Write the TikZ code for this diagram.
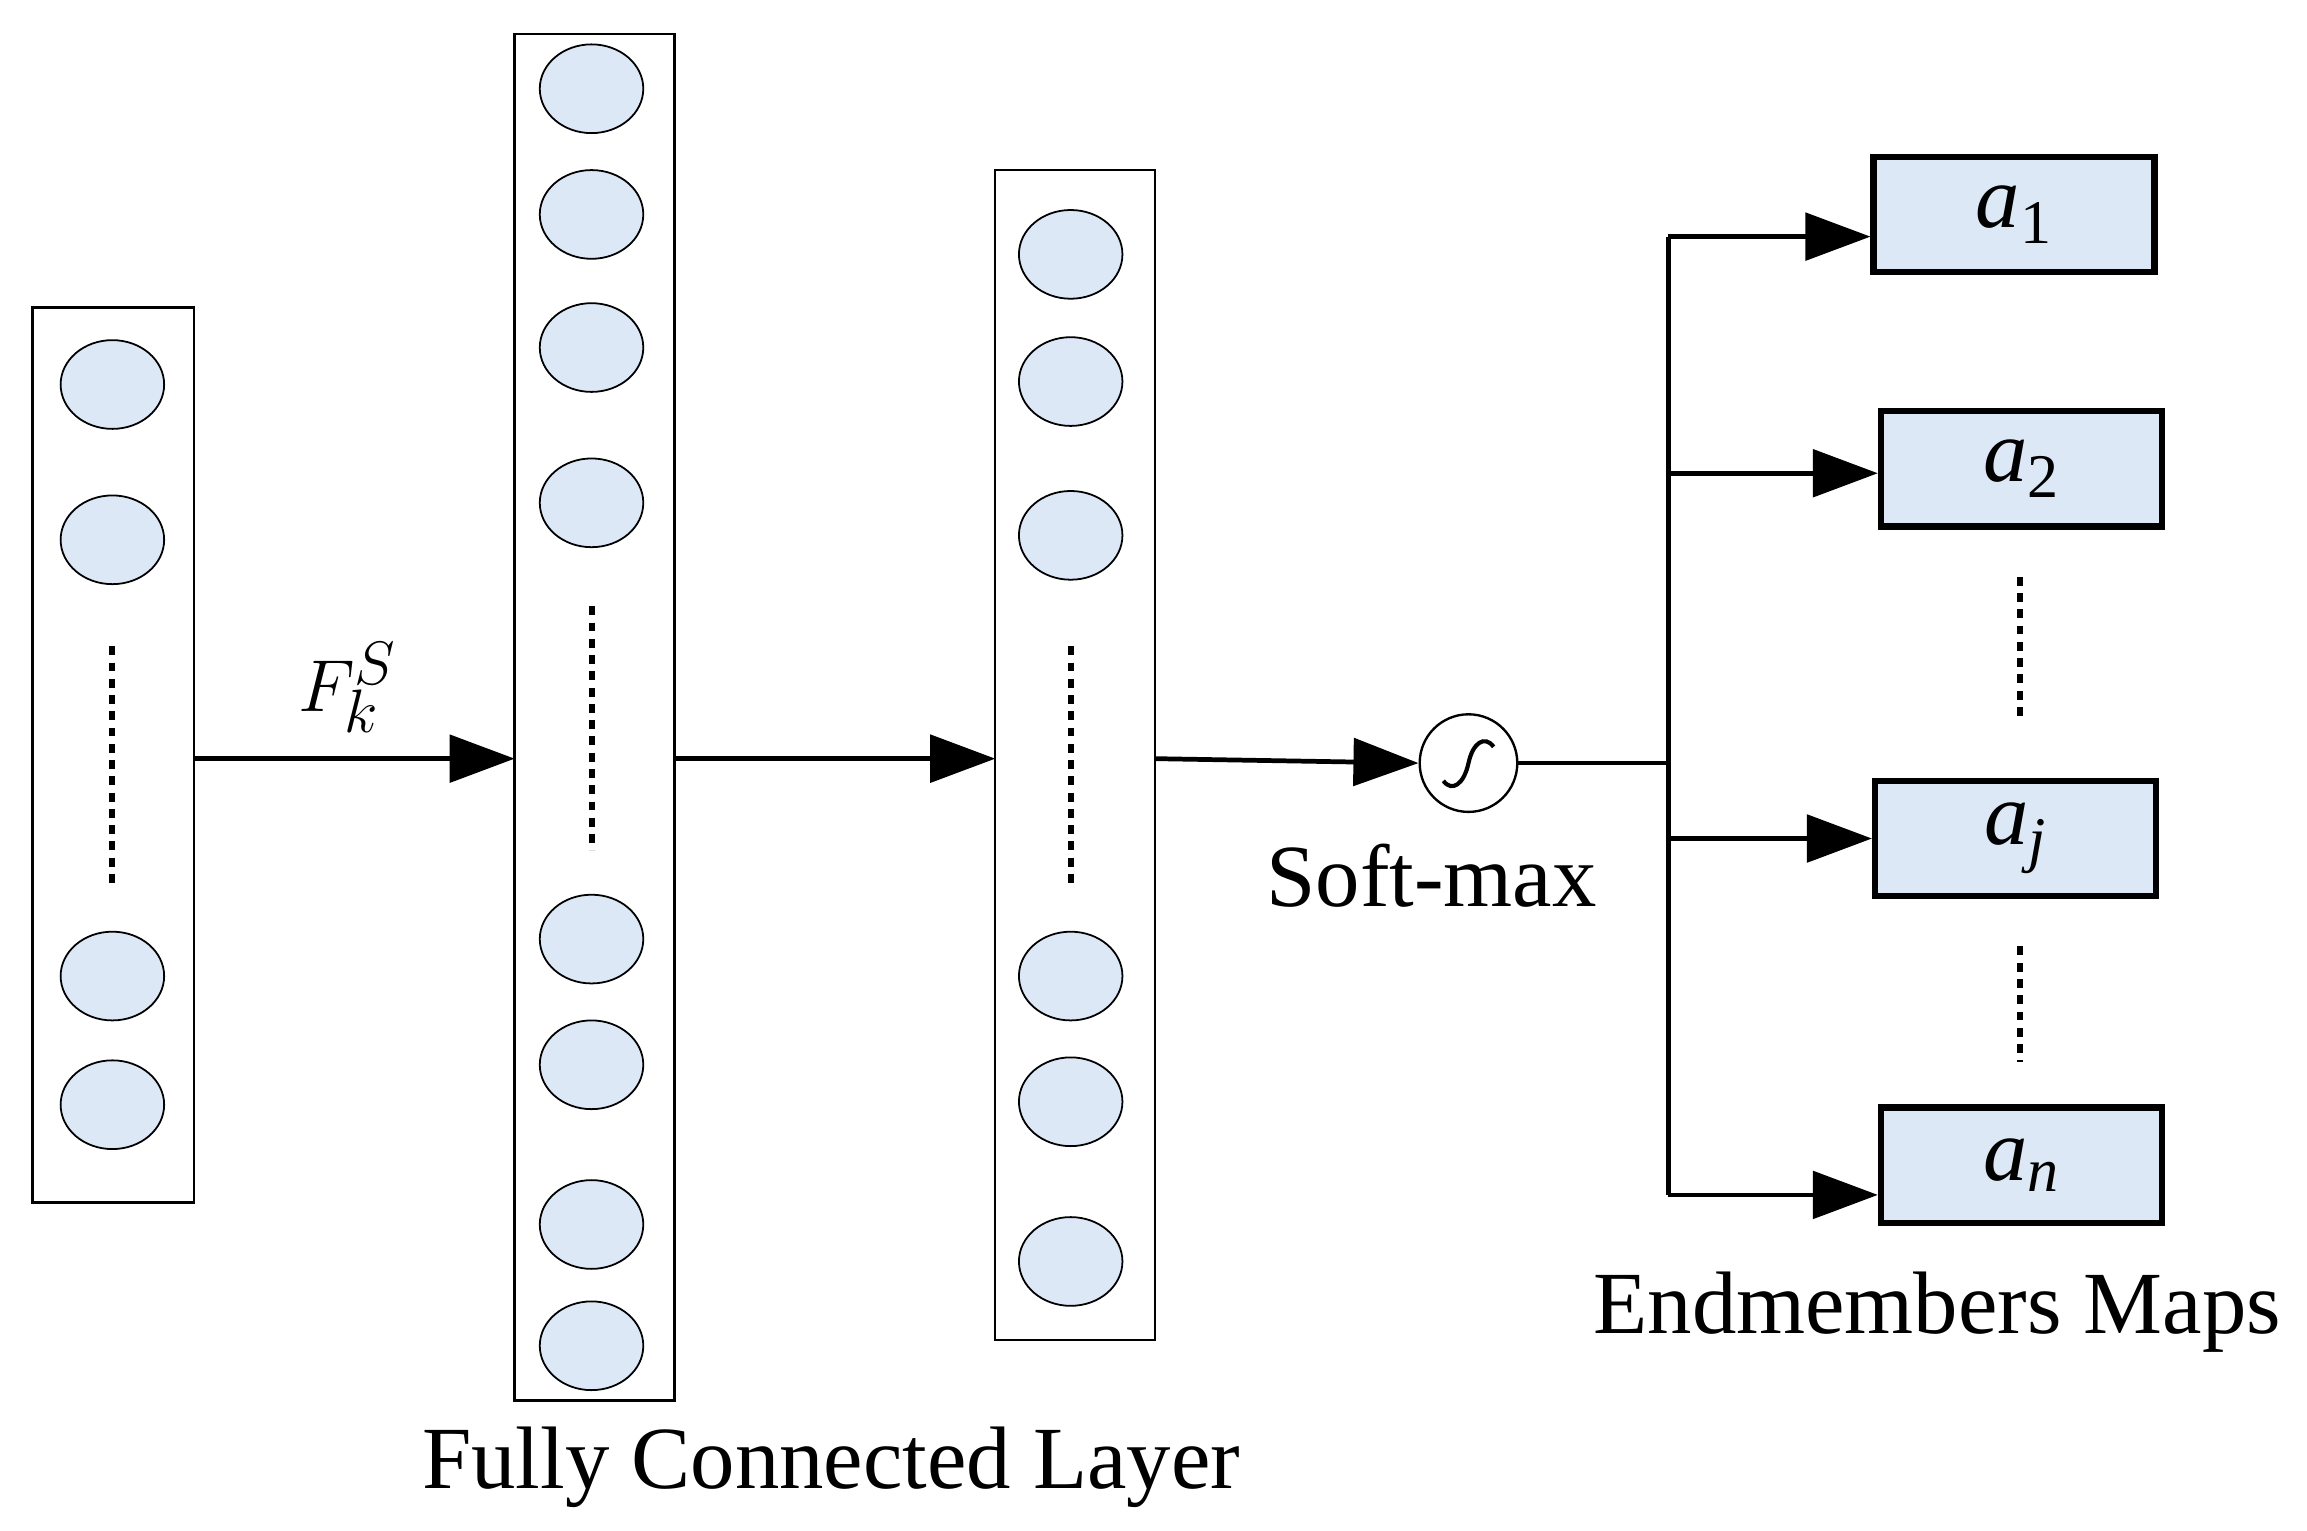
\documentclass[tikz,border=0pt]{standalone}
\usepackage{fontspec}
\setmainfont{Liberation Serif}
\usetikzlibrary{arrows.meta,shapes.geometric}
\definecolor{cfill}{RGB}{221,232,246}
\begin{document}
\begin{tikzpicture}[x=0.5pt,y=-0.5pt,
  neuron/.style={draw,fill=cfill,ellipse,minimum width=35pt,minimum height=30pt,inner sep=0pt,line width=0.6pt},
  col/.style={draw,line width=0.8pt},
  conn/.style={line width=1.6pt,-{Triangle[length=22pt,width=16pt]}},
  line/.style={line width=1.6pt},
  dots/.style={line width=2pt,dash pattern=on 3pt off 2.5pt},
  obox/.style={draw,fill=cfill,line width=2.2pt,minimum width=95pt,minimum height=39pt,inner sep=0pt,font=\fontsize{30}{32}\selectfont\itshape},
  lbl/.style={font=\fontsize{30}{33}\selectfont}]
\useasboundingbox (0,0) rectangle (1560,1035);
% columns
\draw[col] (22,208) rectangle (131,813);
\draw[col] (348,23) rectangle (456,947);
\draw[col] (673,115) rectangle (781,906);
\coordinate (c1r) at (131,513);
\coordinate (c2l) at (348,513);
\coordinate (c2r) at (456,513);
\coordinate (c3l) at (673,513);
\coordinate (c3r) at (781,513);
\foreach \y [count=\i] in {260,365,660,747} \node[neuron] (n1\i) at (76,\y) {};
\foreach \y [count=\i] in {60,145,235,340,635,720,828,910} \node[neuron] (n2\i) at (400,\y) {};
\foreach \y [count=\i] in {172,258,362,660,745,853} \node[neuron] (n3\i) at (724,\y) {};
\draw[dots] (76,437) -- (76,600);
\draw[dots] (400,410) -- (400,575);
\draw[dots] (724,437) -- (724,600);
% arrows
\draw[conn] (c1r) -- (c2l);
\draw[conn] (c2r) -- (c3l);
\node[draw,circle,minimum size=33pt,inner sep=0pt,line width=0.8pt] (sig) at (993,516) {};
\draw[line width=1.4pt] (976,528) .. controls (982,536) and (990,530) .. (993,516) .. controls (996,502) and (1004,497) .. (1010,505);
\draw[conn] (c3r) -- (sig.west);
\node[lbl] (fk) at (235,465) {$F_k^S$};
\node[lbl] (sm) at (968,592) {Soft-max};
\node[lbl] (fcl) at (562,992) {Fully Connected Layer};
% outputs
\node[obox] (a1) at (1362,145) {a\textsubscript{\upshape 1}};
\node[obox] (a2) at (1367,317) {a\textsubscript{\upshape 2}};
\node[obox] (aj) at (1363,567) {a\textsubscript{j}};
\node[obox] (an) at (1367,788) {a\textsubscript{n}};
\coordinate (bus) at (1128,516);
\coordinate (btop) at (1128,160);
\coordinate (bbot) at (1128,808);
\draw[line] (sig.east) -- (bus);
\draw[line] (btop) -- (bbot);
\draw[conn] (btop) -- (a1.west |- btop);
\draw[conn] (1128,320) -- (a2.west |- 0,320);
\draw[conn] (1128,567) -- (aj.west);
\draw[conn] (bbot) -- (an.west |- bbot);
\draw[dots] (1366,390) -- (1366,485);
\draw[dots] (1366,640) -- (1366,718);
\node[lbl] (em) at (1310,887) {Endmembers Maps};
\end{tikzpicture}
\end{document}
